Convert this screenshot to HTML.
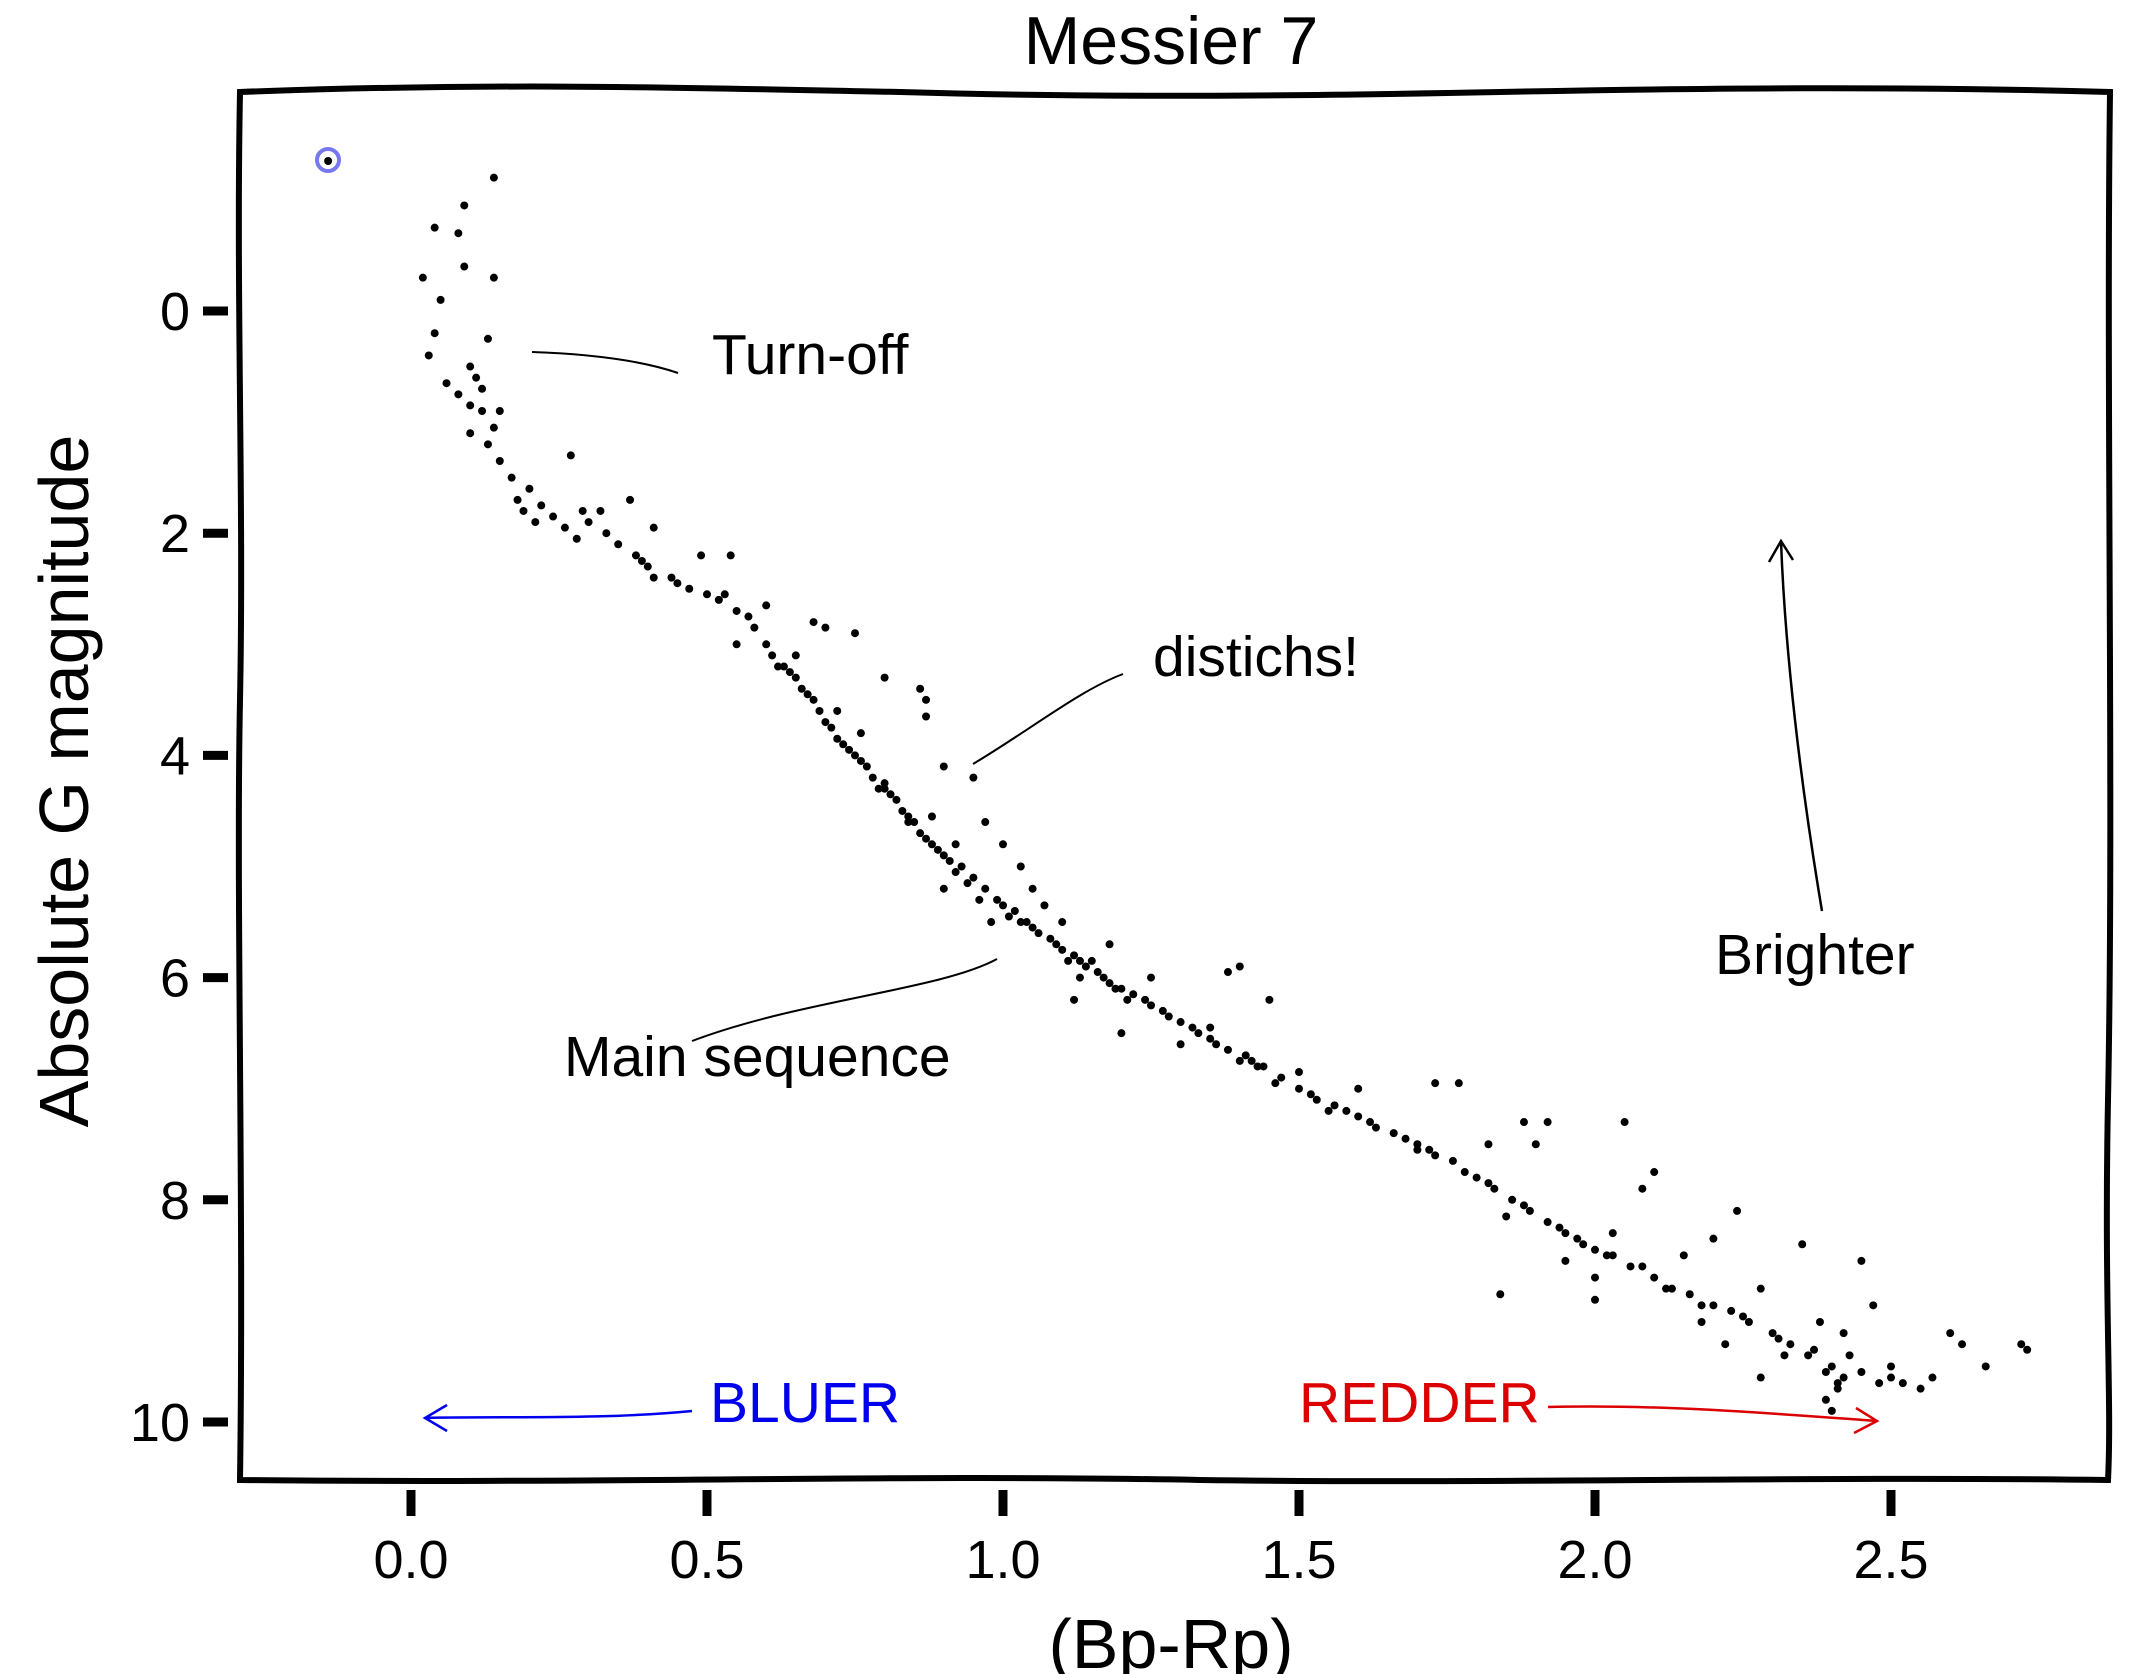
<!DOCTYPE html>
<html><head><meta charset="utf-8"><style>
html,body{margin:0;padding:0;background:#fff;}
svg{display:block;font-family:"Liberation Sans","DejaVu Sans",sans-serif;}
</style></head><body>
<svg id="chart" width="2137" height="1674" viewBox="0 0 2137 1674" xmlns="http://www.w3.org/2000/svg">
<rect width="2137" height="1674" fill="#fff"/>
<text x="1171" y="64" font-size="68" text-anchor="middle">Messier 7</text>
<path fill="none" stroke="#000" stroke-width="6" d="M240,92 C500,82 700,88 900,92 C1100,98 1300,96 1500,92 C1700,88 1900,86 2110,92 C2106,400 2114,800 2108,1100 C2104,1300 2112,1400 2108,1480 C1800,1476 1500,1484 1200,1480 C900,1474 600,1484 240,1480 C244,1200 236,900 240,700 C244,500 236,300 240,92 Z"/>
<g id="ticks"></g>
<g id="points"></g>
<g><circle cx="328" cy="160" r="11" fill="none" stroke="#7777ee" stroke-width="4"/></g>
<text x="712" y="374" font-size="57">Turn-off</text>
<path d="M532,352 C590,354 640,360 678,373" fill="none" stroke="#000" stroke-width="2"/>
<text x="1153" y="676" font-size="57">distichs!</text>
<path d="M973,764 C1030,730 1080,690 1123,674" fill="none" stroke="#000" stroke-width="2"/>
<text x="564" y="1076" font-size="57">Main sequence</text>
<path d="M692,1041 C800,1000 940,990 997,959" fill="none" stroke="#000" stroke-width="2"/>
<text x="1715" y="974" font-size="57">Brighter</text>
<path d="M1822,911 C1800,780 1785,650 1781,541 M1769,562 L1781,541 L1793,560" fill="none" stroke="#000" stroke-width="2.5"/>
<text x="710" y="1422" font-size="57" fill="#0000ee">BLUER</text>
<path d="M692,1411 C600,1420 500,1416 425,1418 M447,1405 L425,1418 L447,1431" fill="none" stroke="#0000ee" stroke-width="2.5"/>
<text x="1299" y="1422" font-size="57" fill="#dd0000">REDDER</text>
<path d="M1548,1407 C1660,1404 1780,1414 1877,1421 M1856,1408 L1877,1421 L1854,1433" fill="none" stroke="#dd0000" stroke-width="2.5"/>
<text transform="translate(88,781) rotate(-90)" font-size="70" text-anchor="middle">Absolute G magnitude</text>
<text x="1171" y="1668" font-size="70" text-anchor="middle">(Bp-Rp)</text>
</svg>
<script>
const xTicks=[0.0,0.5,1.0,1.5,2.0,2.5];
const xTickLabels=["0.0","0.5","1.0","1.5","2.0","2.5"];
const yTicks=[0,2,4,6,8,10];
const yTickLabels=["0","2","4","6","8","10"];
const sunColor=[-0.14];
const sunMag=[-1.35];
const color=[0.02,0.05,0.04,0.03,0.06,0.08,0.10,0.12,0.14,0.13,0.08,0.09,0.14,0.04,0.09,0.14,0.1,0.11,0.12,0.15,0.1,0.13,0.15,0.17,0.18,0.19,0.21,0.2,0.22,0.24,0.27,0.26,0.28,0.3,0.29,0.32,0.35,0.38,0.4,0.41,0.37,0.41,0.44,0.47,0.5,0.52,0.55,0.58,0.49,0.54,0.53,0.6,0.61,0.63,0.65,0.66,0.67,0.69,0.7,0.72,0.74,0.75,0.77,0.78,0.8,0.82,0.83,0.85,0.86,0.88,0.9,0.91,0.93,0.95,0.97,0.99,1.0,1.02,1.04,1.06,1.08,1.1,1.12,1.14,1.16,1.18,1.2,1.22,1.25,1.28,1.3,1.33,1.36,1.38,1.41,1.44,1.47,1.5,1.53,1.56,1.6,1.63,1.66,1.7,1.73,1.76,1.8,1.83,1.86,1.89,1.92,1.95,1.98,2.0,2.03,2.06,2.1,2.13,2.16,2.2,2.23,2.26,2.3,2.33,2.37,2.4,2.42,2.45,2.48,2.5,2.55,2.6,2.62,2.66,2.72,2.73,2.39,2.41,2.38,2.45,2.47,2.5,2.35,2.24,2.2,2.1,2.08,2.05,1.92,1.88,1.82,1.77,1.73,1.84,1.4,1.38,1.45,1.35,1.3,1.2,1.1,1.05,1.07,1.0,0.95,0.9,0.87,0.86,0.87,0.8,0.75,0.7,0.68,0.6,0.55,0.9,0.97,1.03,0.98,1.12,1.25,1.18,1.6,1.9,2.0,2.15,2.28,2.32,2.28,2.22,2.18,2.0,2.03,1.95,1.85,1.7,1.55,1.5,1.42,0.65,0.72,0.76,0.79,0.84,0.88,0.92,1.15,1.13,1.27,2.42,2.4,2.43,2.52,2.57,
0.62,0.64,0.68,0.71,0.73,0.81,0.84,0.87,0.89,0.92,0.94,0.96,1.01,1.03,1.05,1.09,1.11,1.13,1.17,1.19,1.21,1.24,1.32,1.35,1.4,1.43,1.46,1.52,1.58,1.62,1.68,1.72,1.78,1.82,1.88,1.94,1.97,2.02,2.08,2.12,2.18,2.25,2.31,2.36,2.39,2.41,0.33,0.39,0.45,0.57,0.76,0.8];
const mag=[-0.3,-0.1,0.2,0.4,0.65,0.75,0.85,0.9,1.05,0.25,-0.7,-0.4,-0.3,-0.75,-0.95,-1.2,0.5,0.6,0.7,0.9,1.1,1.2,1.35,1.5,1.7,1.8,1.9,1.6,1.75,1.85,1.3,1.95,2.05,1.9,1.8,1.8,2.1,2.2,2.3,2.4,1.7,1.95,2.4,2.5,2.55,2.6,2.7,2.85,2.2,2.2,2.55,3.0,3.1,3.2,3.3,3.4,3.45,3.6,3.7,3.85,3.95,4.0,4.1,4.2,4.3,4.4,4.5,4.6,4.7,4.8,4.9,4.95,5.0,5.1,5.2,5.3,5.35,5.4,5.5,5.6,5.65,5.75,5.8,5.9,5.95,6.05,6.1,6.15,6.25,6.35,6.4,6.5,6.6,6.65,6.7,6.8,6.9,7.0,7.1,7.15,7.25,7.35,7.4,7.5,7.6,7.65,7.8,7.9,8.0,8.1,8.2,8.3,8.4,8.45,8.5,8.6,8.7,8.8,8.85,8.95,9.0,9.1,9.2,9.3,9.35,9.5,9.6,9.55,9.65,9.6,9.7,9.2,9.3,9.5,9.3,9.35,9.8,9.7,9.1,8.55,8.95,9.5,8.4,8.1,8.35,7.75,7.9,7.3,7.3,7.3,7.5,6.95,6.95,8.85,5.9,5.95,6.2,6.45,6.6,6.5,5.5,5.2,5.35,4.8,4.2,4.1,3.65,3.4,3.5,3.3,2.9,2.85,2.8,2.65,3.0,5.2,4.6,5.0,5.5,6.2,6.0,5.7,7.0,7.5,8.7,8.5,8.8,9.4,9.6,9.3,9.1,8.9,8.3,8.55,8.15,7.55,7.2,6.85,6.75,3.1,3.6,3.8,4.3,4.55,4.55,4.8,5.85,6.0,6.3,9.2,9.9,9.4,9.65,9.6,
3.2,3.25,3.5,3.75,3.9,4.35,4.6,4.75,4.85,5.05,5.15,5.3,5.45,5.5,5.55,5.7,5.85,5.85,6.0,6.1,6.2,6.2,6.45,6.55,6.75,6.8,6.95,7.05,7.2,7.3,7.45,7.55,7.75,7.85,8.05,8.25,8.35,8.5,8.6,8.8,8.95,9.05,9.25,9.4,9.55,9.65,2.0,2.25,2.45,2.75,4.05,4.25];
const NS="http://www.w3.org/2000/svg";
function xs(v){return 411+v*592;}
function ys(v){return 311+v*111.1;}
const tg=document.getElementById('ticks');
xTicks.forEach((t,i)=>{
  const l=document.createElementNS(NS,'line');
  l.setAttribute('x1',xs(t));l.setAttribute('x2',xs(t));l.setAttribute('y1',1490);l.setAttribute('y2',1516);
  l.setAttribute('stroke','#000');l.setAttribute('stroke-width','9');
  
  
  tg.appendChild(l);
  const tx=document.createElementNS(NS,'text');
  tx.setAttribute('x',xs(t));tx.setAttribute('y',1578);tx.setAttribute('font-size','54');tx.setAttribute('text-anchor','middle');
  tx.textContent=xTickLabels[i];
  
  
  tg.appendChild(tx);
});
yTicks.forEach((t,i)=>{
  const l=document.createElementNS(NS,'line');
  l.setAttribute('x1',203);l.setAttribute('x2',228);l.setAttribute('y1',ys(t));l.setAttribute('y2',ys(t));
  l.setAttribute('stroke','#000');l.setAttribute('stroke-width','9');
  
  
  tg.appendChild(l);
  const tx=document.createElementNS(NS,'text');
  tx.setAttribute('x',190);tx.setAttribute('y',ys(t)+19);tx.setAttribute('font-size','54');tx.setAttribute('text-anchor','end');
  tx.textContent=yTickLabels[i];
  
  
  tg.appendChild(tx);
});
const pg=document.getElementById('points');
color.forEach((c,i)=>{
  const p=document.createElementNS(NS,'circle');
  p.setAttribute('cx',xs(c));p.setAttribute('cy',ys(mag[i]));p.setAttribute('r','4');p.setAttribute('fill','#000');
  
  
  pg.appendChild(p);
});
sunColor.forEach((c,i)=>{
  const p=document.createElementNS(NS,'circle');
  p.setAttribute('cx',xs(c));p.setAttribute('cy',ys(sunMag[i]));p.setAttribute('r','4');p.setAttribute('fill','#000');
  
  
  pg.appendChild(p);
});
</script>
</body></html>
